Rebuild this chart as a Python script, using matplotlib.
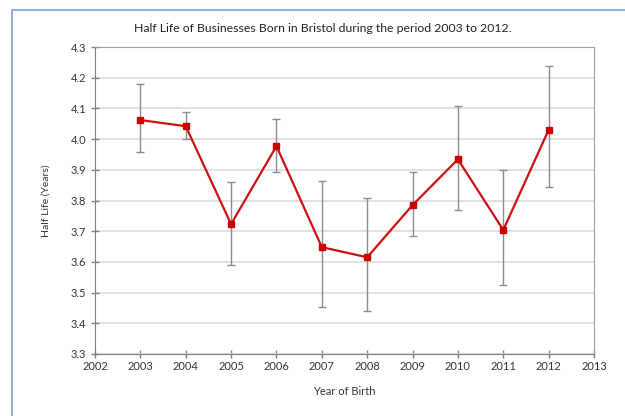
import matplotlib.pyplot as plt
from matplotlib.patches import Rectangle

years = [2003, 2004, 2005, 2006, 2007, 2008, 2009, 2010, 2011, 2012]
half_life = [4.062, 4.042, 3.723, 3.977, 3.648, 3.615, 3.785, 3.934, 3.704, 4.030]
err_high = [4.180, 4.087, 3.860, 4.065, 3.865, 3.807, 3.894, 4.109, 3.900, 4.238]
err_low = [3.958, 3.999, 3.590, 3.894, 3.452, 3.441, 3.685, 3.770, 3.525, 3.843]

yerr = [[v - lo for v, lo in zip(half_life, err_low)],
        [hi - v for v, hi in zip(half_life, err_high)]]

plt.rcParams["font.family"] = ["Lato", "DejaVu Sans"]

fig = plt.figure(figsize=(6.25, 4.16), dpi=100)
fig.patches.append(Rectangle((12 / 625, -0.1), 1.2, 1 - 10 / 416 + 0.1,
                             transform=fig.transFigure, fill=False,
                             edgecolor="#7c9fd4", linewidth=1.2))

ax = fig.add_axes([95 / 625, 62 / 416, 499 / 625, 307 / 416])
ax.errorbar(years, half_life, yerr=yerr, fmt="none", ecolor="#8c8c8c",
            elinewidth=1, capsize=3, capthick=1, zorder=2)
ax.plot(years, half_life, color="#cc1111", linewidth=1.6, marker="s",
        markersize=4.5, markerfacecolor="#cc0000", markeredgecolor="#cc0000", zorder=3)

ax.set_xlim(2002, 2013)
ax.set_ylim(3.3, 4.3)
ax.set_xticks(range(2002, 2014))
ax.set_yticks([3.3 + 0.1 * i for i in range(11)])
ax.set_yticklabels([f"{3.3 + 0.1 * i:.1f}" for i in range(11)])
ax.yaxis.grid(True, color="#dcdcdc", linewidth=1.2)
ax.set_axisbelow(True)
ax.tick_params(direction="inout", length=6, width=1, color="#808080",
               labelsize=8, labelcolor="#333333")
ax.tick_params(axis="x", pad=2)
for side in ["left", "bottom"]:
    ax.spines[side].set_color("#808080")
for side in ["top", "right"]:
    ax.spines[side].set_color("#a0a0a0")

fig.text(323 / 625, 1 - 28 / 416, "Half Life of Businesses Born in Bristol during the period 2003 to 2012.",
         ha="center", va="center", fontsize=8.8, color="#222222")
ax.set_xlabel("Year of Birth", fontsize=8, color="#333333", labelpad=10)
ax.set_ylabel("Half Life (Years)", fontsize=7.5, color="#333333", labelpad=14)

fig.savefig("out.png", dpi=100)
